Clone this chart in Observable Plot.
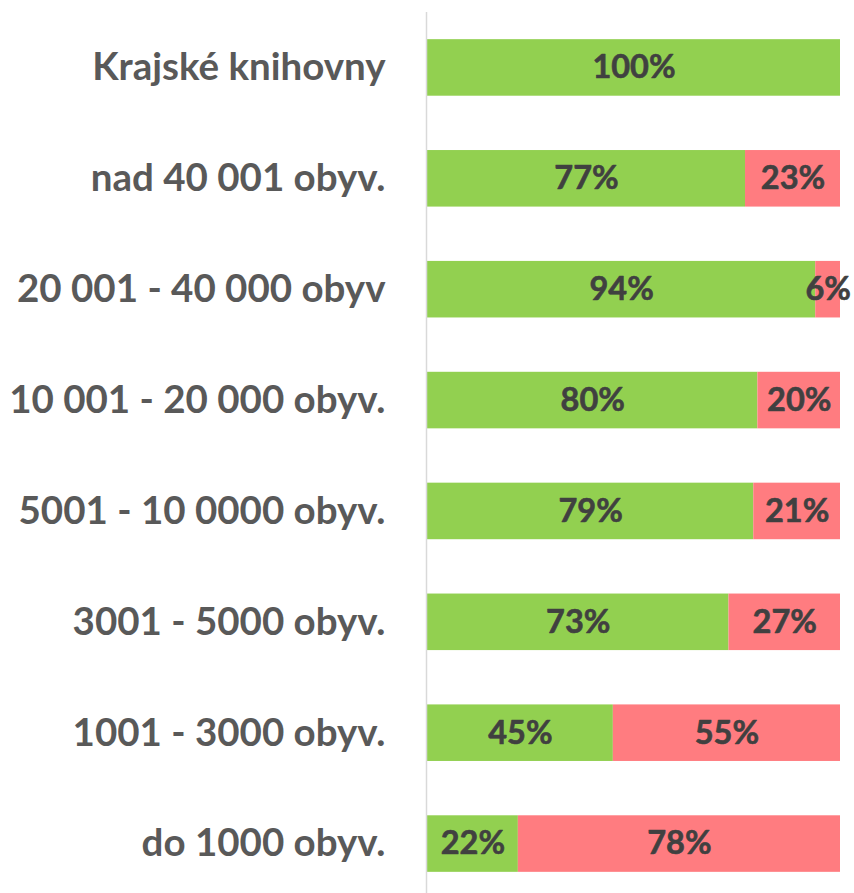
<!DOCTYPE html>
<html>
<head>
<meta charset="utf-8">
<script src="https://cdn.jsdelivr.net/npm/d3@7"></script>
<script src="https://cdn.jsdelivr.net/npm/@observablehq/plot@0.6"></script>
<style>
  body { margin: 0; background: #fff; }
  #chart svg { display: block; }
</style>
</head>
<body>
<div id="chart"></div>
<script>
const categories = [
  "Krajské knihovny",
  "nad 40 001 obyv.",
  "20 001 - 40 000 obyv",
  "10 001 - 20 000 obyv.",
  "5001 - 10 0000 obyv.",
  "3001 - 5000 obyv.",
  "1001 - 3000 obyv.",
  "do 1000 obyv."
];
const greenValues = [100, 77, 94, 80, 79, 73, 45, 22];
const redValues   = [0, 23, 6, 20, 21, 27, 55, 78];
const seriesNames = ["ano", "ne"];
const seriesColors = ["#92D050", "#FF7C80"];

const data = [];
categories.forEach((c, i) => {
  data.push({category: c, series: seriesNames[0], value: greenValues[i]});
  data.push({category: c, series: seriesNames[1], value: redValues[i]});
});

const chart = Plot.plot({
  width: 854,
  height: 893,
  marginLeft: 427,
  marginRight: 14,
  marginTop: 12,
  marginBottom: 0,
  style: {background: "#fff"},
  x: {domain: [0, 100], axis: null},
  y: {domain: categories, range: [12, 899], round: false, paddingInner: 0.49, paddingOuter: 0.245, label: null},
  color: {domain: seriesNames, range: seriesColors},
  marks: [
    Plot.barX(data, Plot.stackX({
      x: "value", y: "category", fill: "series", order: seriesNames
    })),
    Plot.textX(data.filter(d => d.value > 0), Plot.stackX({
      x: "value", y: "category", z: "series", order: seriesNames,
      text: d => d.value + "%",
      fill: "#404040",
      fontSize: 32.5,
      fontWeight: "bold",
      fontFamily: "Lato, 'Open Sans', sans-serif",
      stroke: "#404040",
      strokeWidth: 0.6
    })),
    Plot.axisY({
      tickSize: 0,
      tickPadding: 42,
      fontSize: 38.5,
      fontWeight: "bold",
      fontFamily: "Lato, 'Open Sans', sans-serif",
      fill: "#595959",
      stroke: "#595959",
      strokeWidth: 0.7,
      label: null
    }),
    Plot.ruleX([0], {stroke: "#D9D9D9", strokeWidth: 1.5, dx: -1})
  ]
});
document.getElementById("chart").appendChild(chart);
</script>
</body>
</html>
